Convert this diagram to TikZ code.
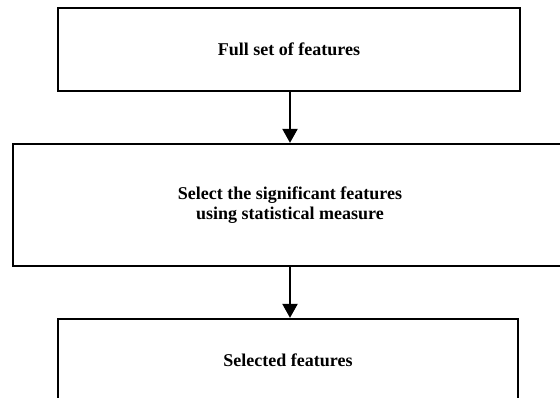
\documentclass[tikz,border=0pt]{standalone}
\usepackage{fontspec}
\setmainfont{Liberation Serif}
\usetikzlibrary{arrows.meta}
\begin{document}
\begin{tikzpicture}[x=1pt,y=1pt,
  flowbox/.style={draw=black, line width=2.3pt, fill=white, align=center,
    font=\fontsize{18}{20}\selectfont\bfseries, inner sep=0pt},
  flowarrow/.style={line width=2.3pt, -{Triangle[width=15pt,length=14pt]}}]
  \clip (0,0) rectangle (560,397);
  \fill[white] (0,0) rectangle (560,397);
  \node[flowbox, minimum width=462pt, minimum height=83pt] (full) at (289,347.5) {Full set of features};
  \node[flowbox, minimum width=554pt, minimum height=122pt] (select) at (290,192)
    {Select the significant features\\using statistical measure};
  \node[flowbox, minimum width=460pt, minimum height=82pt] (chosen) at (288,37) {Selected features};
  \draw[flowarrow] (290,0 |- full.south) -- (290,0 |- select.north);
  \draw[flowarrow] (290,0 |- select.south) -- (290,0 |- chosen.north);
\end{tikzpicture}
\end{document}
